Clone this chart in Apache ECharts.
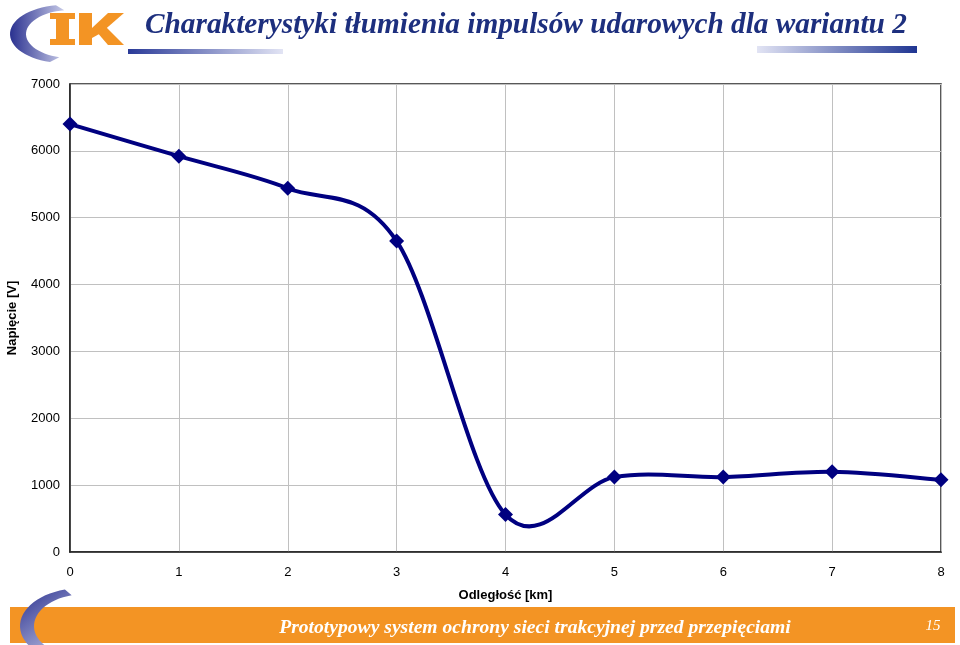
<!DOCTYPE html>
<html>
<head>
<meta charset="utf-8">
<script src="https://cdn.jsdelivr.net/npm/echarts@6/dist/echarts.min.js"></script>
<style>html,body{margin:0;padding:0;background:#fff}#c{width:960px;height:645px}</style>
</head>
<body>
<div id="c"></div>
<script>
const distances = [0, 1, 2, 3, 4, 5, 6, 7, 8];
const voltages = [6400, 5920, 5440, 4650, 560, 1120, 1120, 1200, 1080];
const yTicks = [0, 1000, 2000, 3000, 4000, 5000, 6000, 7000];
const titleText = 'Charakterystyki tłumienia impulsów udarowych dla wariantu 2';
const footerText = 'Prototypowy system ochrony sieci trakcyjnej przed przepięciami';
const pageNo = '15';

function lg(x2, y2, c0, c1) {
  return { type: 'linear', x: 0, y: 0, x2: x2, y2: y2, colorStops: [{ offset: 0, color: c0 }, { offset: 1, color: c1 }] };
}
function crescent(cx, cy, rxO, ryO, rxI, ryI, dxI, a0, a1) {
  const pts = [];
  const n = 30;
  for (let i = 0; i <= n; i++) {
    const a = a0 + (a1 - a0) * i / n;
    pts.push([cx + rxO * Math.cos(a), cy + ryO * Math.sin(a)]);
  }
  for (let i = n; i >= 0; i--) {
    const a = a0 + (a1 - a0) * i / n;
    pts.push([cx + dxI + rxI * Math.cos(a), cy + ryI * Math.sin(a)]);
  }
  return pts;
}

const points = distances.map((d, i) => [d, voltages[i]]);
const lineColor = '#000080';

// Excel-like smoothed segment between data point i and i+1 (Catmull-Rom Bezier), in pixel space via api.coord
function renderSegment(params, api) {
  const i = params.dataIndex;
  const n = points.length;
  if (i >= n - 1) return null;
  const P = k => api.coord(points[Math.max(0, Math.min(n - 1, k))]);
  const p0 = P(i - 1), p1 = P(i), p2 = P(i + 1), p3 = P(i + 2);
  const t = 1 / 6;
  return {
    type: 'bezierCurve',
    shape: {
      x1: p1[0], y1: p1[1], x2: p2[0], y2: p2[1],
      cpx1: p1[0] + (p2[0] - p0[0]) * t, cpy1: p1[1] + (p2[1] - p0[1]) * t,
      cpx2: p2[0] - (p3[0] - p1[0]) * t, cpy2: p2[1] - (p3[1] - p1[1]) * t
    },
    style: { stroke: lineColor, lineWidth: 4, fill: null, lineCap: 'round' }
  };
}

const chart = echarts.init(document.getElementById('c'));
const gridColor = '#c0c0c0';
const axisFont = { fontFamily: 'Liberation Sans', fontSize: 13, color: '#000' };
chart.setOption({
  animation: false,
  backgroundColor: '#fff',
  grid: { left: 70, right: 19, top: 84, bottom: 93, containLabel: false, outerBoundsMode: 'none', show: true, borderColor: '#222', borderWidth: 1.5 },
  xAxis: {
    type: 'value', min: 0, max: 8, interval: 1,
    name: 'Odległość [km]', nameLocation: 'middle', nameGap: 37,
    nameTextStyle: Object.assign({}, axisFont, { fontWeight: 'bold' }),
    axisLine: { show: true, lineStyle: { color: '#222', width: 1.5 } },
    axisTick: { show: false },
    axisLabel: Object.assign({}, axisFont, { margin: 14, formatter: v => String(v) }),
    splitLine: { show: true, lineStyle: { color: gridColor, width: 1 } }
  },
  yAxis: {
    type: 'value', min: yTicks[0], max: yTicks[yTicks.length - 1], interval: 1000,
    name: 'Napięcie [V]', nameLocation: 'middle', nameGap: 51, nameRotate: 90,
    nameTextStyle: Object.assign({}, axisFont, { fontWeight: 'bold' }),
    axisLine: { show: true, lineStyle: { color: '#222', width: 1.5 } },
    axisTick: { show: false },
    axisLabel: Object.assign({}, axisFont, { margin: 10, formatter: v => String(v) }),
    splitLine: { show: true, lineStyle: { color: gridColor, width: 1 } }
  },
  series: [
    {
      type: 'custom',
      data: points,
      renderItem: renderSegment,
      silent: true,
      z: 2
    },
    {
      type: 'scatter',
      data: points,
      symbol: 'diamond', symbolSize: 15,
      itemStyle: { color: lineColor, opacity: 1 },
      z: 3
    }
  ],
  graphic: [
    { type: 'polygon', shape: { points: crescent(64, 34, 54, 29, 45, 24, 7, -1.72, -4.45) },
      style: { fill: lg(1, 0, '#2a3190', '#c8cbe8') } },
    // I
    { type: 'rect', shape: { x: 50, y: 13, width: 25, height: 6 }, style: { fill: '#f39424' } },
    { type: 'rect', shape: { x: 56, y: 13, width: 13, height: 32 }, style: { fill: '#f39424' } },
    { type: 'rect', shape: { x: 50, y: 39, width: 25, height: 6 }, style: { fill: '#f39424' } },
    // K
    { type: 'rect', shape: { x: 79, y: 13, width: 13, height: 32 }, style: { fill: '#f39424' } },
    { type: 'polygon', shape: { points: [[92, 28], [108, 13], [124, 13], [101, 33], [92, 38]] }, style: { fill: '#f39424' } },
    { type: 'polygon', shape: { points: [[96, 31], [105, 26], [124, 45], [108, 45]] }, style: { fill: '#f39424' } },
    { type: 'rect', shape: { x: 128, y: 49, width: 155, height: 5 },
      style: { fill: lg(1, 0, '#2a3a98', '#e2e4f4') } },
    { type: 'rect', shape: { x: 757, y: 46, width: 160, height: 7 },
      style: { fill: lg(1, 0, '#e2e4f4', '#1f3592') } },
    { type: 'text', left: 145, top: 11, style: { text: titleText, font: 'italic bold 29.3px "Liberation Serif"', fill: '#1d2f7e' } },
    { type: 'rect', shape: { x: 10, y: 607, width: 945, height: 36 }, style: { fill: '#f39424' } },
    { type: 'polygon', shape: { points: crescent(82, 626, 62, 38, 52, 32, 4, -1.85, -4.5) },
      style: { fill: lg(1, 1, '#2a3190', '#d8dbf0') } },
    { type: 'text', x: 535, y: 628, style: { text: footerText, font: 'italic bold 19.6px "Liberation Serif"', fill: '#fff', align: 'center', verticalAlign: 'middle' } },
    { type: 'text', x: 933, y: 626, style: { text: pageNo, font: 'italic 15px "Liberation Serif"', fill: '#fff', align: 'center', verticalAlign: 'middle' } }
  ]
});
</script>
</body>
</html>
